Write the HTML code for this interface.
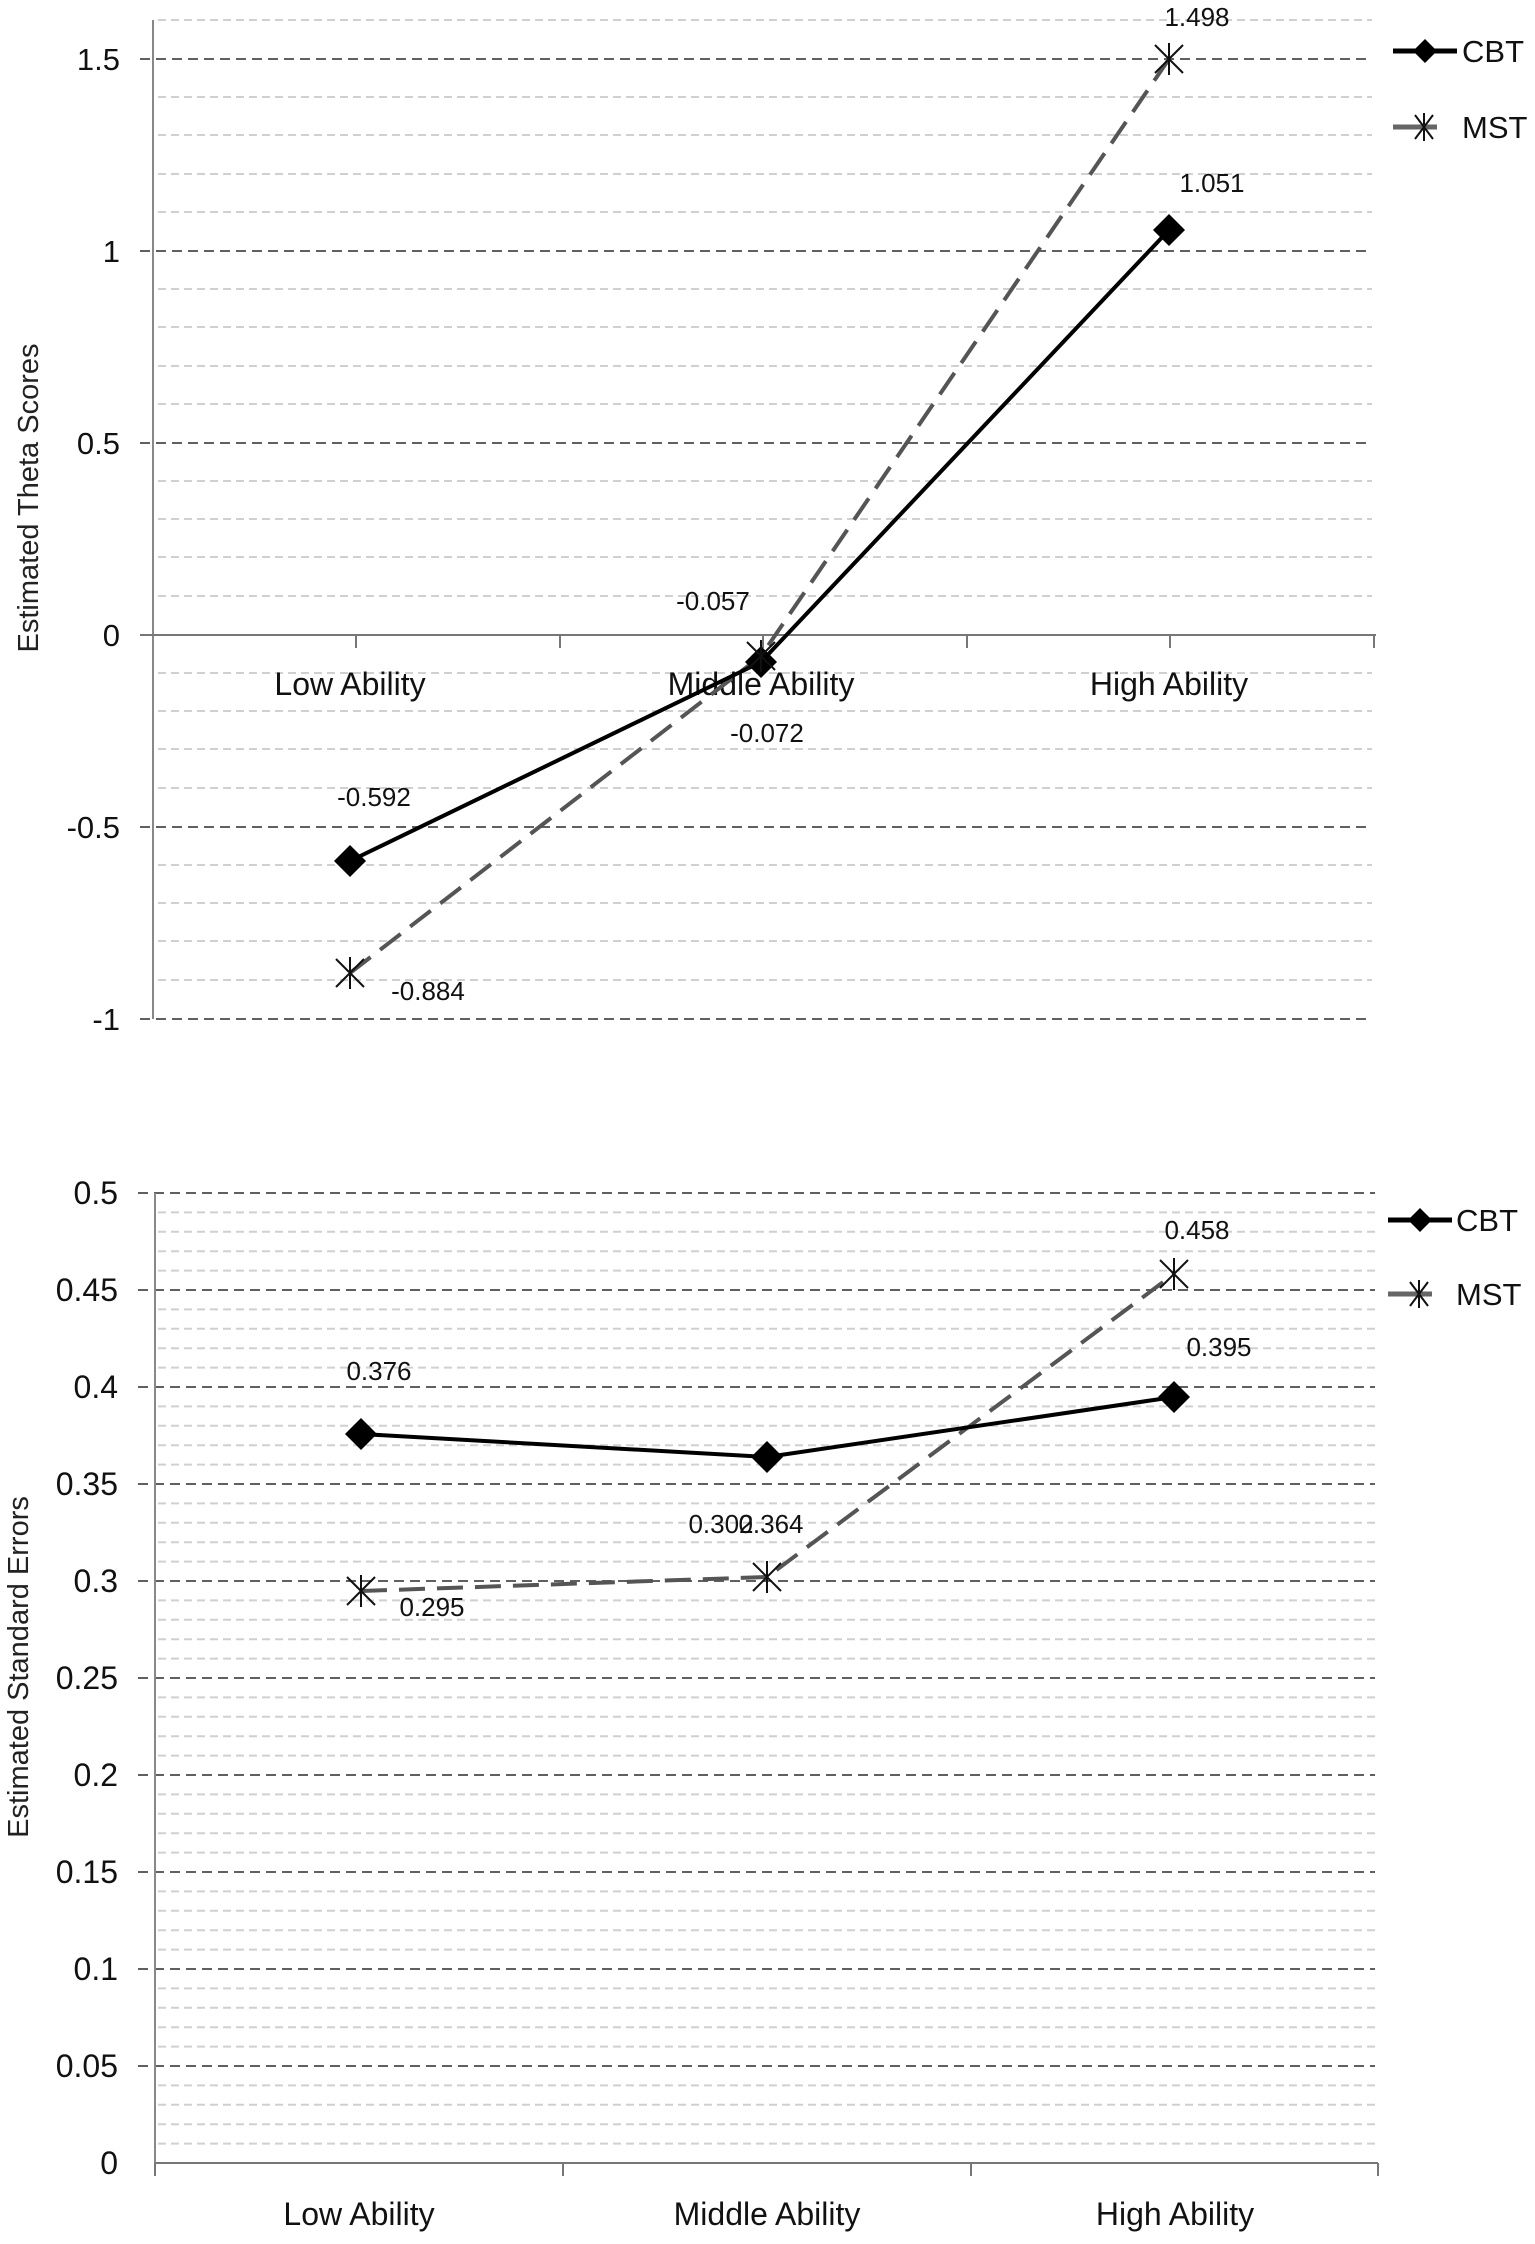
<!DOCTYPE html>
<html><head><meta charset="utf-8"><style>body{margin:0;background:#fff}svg{display:block}</style></head><body>
<svg width="1535" height="2244" viewBox="0 0 1535 2244" xmlns="http://www.w3.org/2000/svg" font-family="Liberation Sans, sans-serif">
<rect width="1535" height="2244" fill="#fff"/>
<g id="top">
<g stroke="#d0d0d0" stroke-width="2" stroke-dasharray="8,5">
<line x1="158" y1="20" x2="1372" y2="20"/>
<line x1="158" y1="97" x2="1372" y2="97"/><line x1="158" y1="135" x2="1372" y2="135"/><line x1="158" y1="174" x2="1372" y2="174"/><line x1="158" y1="212" x2="1372" y2="212"/>
<line x1="158" y1="289" x2="1372" y2="289"/><line x1="158" y1="327" x2="1372" y2="327"/><line x1="158" y1="366" x2="1372" y2="366"/><line x1="158" y1="404" x2="1372" y2="404"/>
<line x1="158" y1="481" x2="1372" y2="481"/><line x1="158" y1="519" x2="1372" y2="519"/><line x1="158" y1="557" x2="1372" y2="557"/><line x1="158" y1="596" x2="1372" y2="596"/>
<line x1="158" y1="673" x2="1372" y2="673"/><line x1="158" y1="711" x2="1372" y2="711"/><line x1="158" y1="749" x2="1372" y2="749"/><line x1="158" y1="788" x2="1372" y2="788"/>
<line x1="158" y1="865" x2="1372" y2="865"/><line x1="158" y1="903" x2="1372" y2="903"/><line x1="158" y1="941" x2="1372" y2="941"/><line x1="158" y1="980" x2="1372" y2="980"/>
</g>
<g stroke="#606060" stroke-width="2" stroke-dasharray="10,6">
<line x1="140" y1="59" x2="1372" y2="59"/><line x1="140" y1="251" x2="1372" y2="251"/><line x1="140" y1="443" x2="1372" y2="443"/><line x1="140" y1="827" x2="1372" y2="827"/><line x1="140" y1="1019" x2="1372" y2="1019"/>
</g>
<line x1="153" y1="20" x2="153" y2="1019" stroke="#888" stroke-width="2"/>
<line x1="140" y1="635" x2="1376" y2="635" stroke="#777" stroke-width="2"/>
<g stroke="#777" stroke-width="2"><line x1="356" y1="635" x2="356" y2="648"/><line x1="560" y1="635" x2="560" y2="648"/><line x1="763" y1="635" x2="763" y2="648"/><line x1="967" y1="635" x2="967" y2="648"/><line x1="1170" y1="635" x2="1170" y2="648"/><line x1="1374" y1="635" x2="1374" y2="648"/></g>
<g font-size="31" text-anchor="end" fill="#111">
<text x="120" y="70">1.5</text><text x="120" y="262">1</text><text x="120" y="454">0.5</text><text x="120" y="646">0</text><text x="120" y="838">-0.5</text><text x="120" y="1030">-1</text>
</g>
<text transform="translate(38,498) rotate(-90)" font-size="29" text-anchor="middle" fill="#222">Estimated Theta Scores</text>
<g font-size="32" text-anchor="middle" fill="#111">
<text x="350" y="695">Low Ability</text><text x="761" y="695">Middle Ability</text><text x="1169" y="695">High Ability</text>
</g>
<polyline points="350,973 761,656 1169,59" fill="none" stroke="#555" stroke-width="4" stroke-dasharray="26,12"/>
<polyline points="350,861 761,662 1169,230" fill="none" stroke="#000" stroke-width="4"/>
<g fill="#000"><path d="M350,845 L366,861 L350,877 L334,861Z"/><path d="M761,646 L777,662 L761,678 L745,662Z"/><path d="M1169,214 L1185,230 L1169,246 L1153,230Z"/></g>
<g stroke="#111" stroke-width="2">
<path d="M336,959 L364,987 M364,959 L336,987 M350,957 L350,989"/>
<path d="M747,642 L775,670 M775,642 L747,670 M761,640 L761,672"/>
<path d="M1155,45 L1183,73 M1183,45 L1155,73 M1169,43 L1169,75"/>
</g>
<g font-size="26" fill="#111" text-anchor="middle">
<text x="1197" y="26">1.498</text><text x="1212" y="192">1.051</text><text x="713" y="610">-0.057</text><text x="767" y="742">-0.072</text><text x="374" y="806">-0.592</text><text x="428" y="1000">-0.884</text>
</g>
<line x1="1393" y1="51" x2="1457" y2="51" stroke="#000" stroke-width="5"/><path d="M1425,39 L1437,51 L1425,63 L1413,51Z"/>
<text x="1462" y="62" font-size="31" fill="#111">CBT</text>
<line x1="1393" y1="127" x2="1437" y2="127" stroke="#666" stroke-width="5"/>
<path d="M1415,115 L1433,139 M1433,115 L1415,139 M1424,113 L1424,141" stroke="#111" stroke-width="2"/>
<text x="1462" y="138" font-size="31" fill="#111">MST</text>
</g>
<g id="bot">
<g stroke="#d0d0d0" stroke-width="2" stroke-dasharray="8,5" id="minor"></g>
<g stroke="#606060" stroke-width="2" stroke-dasharray="10,6" id="major"></g>
<line x1="155" y1="1193" x2="155" y2="2163" stroke="#888" stroke-width="2"/>
<line x1="155" y1="2163" x2="1378" y2="2163" stroke="#777" stroke-width="2"/>
<g stroke="#777" stroke-width="2"><line x1="155" y1="2163" x2="155" y2="2176"/><line x1="563" y1="2163" x2="563" y2="2176"/><line x1="971" y1="2163" x2="971" y2="2176"/><line x1="1378" y1="2163" x2="1378" y2="2176"/></g>
<g font-size="32" text-anchor="end" fill="#111" id="blabels"></g>
<text transform="translate(28,1667) rotate(-90)" font-size="29" text-anchor="middle" fill="#222">Estimated Standard Errors</text>
<g font-size="32" text-anchor="middle" fill="#111">
<text x="359" y="2225">Low Ability</text><text x="767" y="2225">Middle Ability</text><text x="1175" y="2225">High Ability</text>
</g>
<polyline points="361,1591 767,1577 1174,1274" fill="none" stroke="#555" stroke-width="4" stroke-dasharray="26,12"/>
<polyline points="361,1434 767,1457 1174,1397" fill="none" stroke="#000" stroke-width="4"/>
<g fill="#000"><path d="M361,1418 L377,1434 L361,1450 L345,1434Z"/><path d="M767,1441 L783,1457 L767,1473 L751,1457Z"/><path d="M1174,1381 L1190,1397 L1174,1413 L1158,1397Z"/></g>
<g stroke="#111" stroke-width="2">
<path d="M347,1577 L375,1605 M375,1577 L347,1605 M361,1575 L361,1607"/>
<path d="M753,1563 L781,1591 M781,1563 L753,1591 M767,1561 L767,1593"/>
<path d="M1160,1260 L1188,1288 M1188,1260 L1160,1288 M1174,1258 L1174,1290"/>
</g>
<g font-size="26" fill="#111" text-anchor="middle">
<text x="1197" y="1239">0.458</text><text x="1219" y="1356">0.395</text><text x="379" y="1380">0.376</text><text x="721" y="1533">0.302</text><text x="771" y="1533">0.364</text><text x="432" y="1616">0.295</text>
</g>
<line x1="1388" y1="1220" x2="1452" y2="1220" stroke="#000" stroke-width="5"/><path d="M1420,1208 L1432,1220 L1420,1232 L1408,1220Z"/>
<text x="1456" y="1231" font-size="31" fill="#111">CBT</text>
<line x1="1388" y1="1294" x2="1432" y2="1294" stroke="#666" stroke-width="5"/>
<path d="M1410,1282 L1428,1306 M1428,1282 L1410,1306 M1419,1280 L1419,1308" stroke="#111" stroke-width="2"/>
<text x="1456" y="1305" font-size="31" fill="#111">MST</text>
</g>
<script>
var ns="http://www.w3.org/2000/svg";
var mi=document.getElementById("minor"),ma=document.getElementById("major"),lb=document.getElementById("blabels");
for(var i=0;i<=50;i++){var y=2163-i*19.4;var l=document.createElementNS(ns,"line");
if(i%5==0){if(i==0)continue;l.setAttribute("x1",138);ma.appendChild(l);}else{l.setAttribute("x1",158);mi.appendChild(l);}
l.setAttribute("x2",1375);l.setAttribute("y1",y);l.setAttribute("y2",y);}
for(var j=0;j<=10;j++){var t=document.createElementNS(ns,"text");t.setAttribute("x",118);t.setAttribute("y",2163-j*97+11);
var v=(j*0.05);t.textContent=j==0?"0":(j%2==0?v.toFixed(1):v.toFixed(2));lb.appendChild(t);}
</script>
</svg>
</body></html>
